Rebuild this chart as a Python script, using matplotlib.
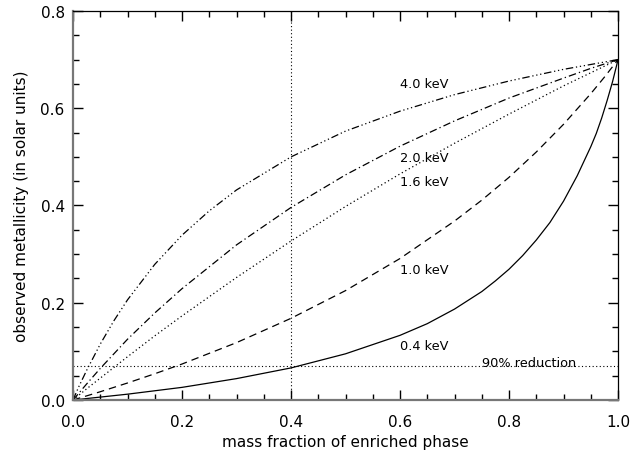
import matplotlib
matplotlib.use("Agg")
import matplotlib.pyplot as plt
from matplotlib.ticker import MultipleLocator

# mass fraction of enriched phase (x samples)
x_4 = [0.0, 0.01, 0.025, 0.05, 0.075, 0.1, 0.15, 0.2, 0.25, 0.3, 0.4, 0.5, 0.6, 0.7, 0.8, 0.9, 0.95, 1.0]
y_4 = [0.0, 0.026, 0.061, 0.115, 0.163, 0.206, 0.279, 0.339, 0.389, 0.432, 0.500, 0.553, 0.594, 0.628, 0.656, 0.680, 0.690, 0.700]

x_20 = [0.0, 0.025, 0.05, 0.1, 0.15, 0.2, 0.3, 0.4, 0.5, 0.6, 0.7, 0.8, 0.9, 0.95, 1.0]
y_20 = [0.0, 0.033, 0.065, 0.125, 0.179, 0.229, 0.319, 0.396, 0.463, 0.522, 0.574, 0.621, 0.662, 0.682, 0.700]

x_16 = [0.0, 0.025, 0.05, 0.1, 0.15, 0.2, 0.3, 0.4, 0.5, 0.6, 0.7, 0.8, 0.9, 0.95, 1.0]
y_16 = [0.0, 0.023, 0.045, 0.089, 0.132, 0.173, 0.252, 0.327, 0.398, 0.465, 0.528, 0.588, 0.646, 0.673, 0.700]

x_10 = [0.0, 0.05, 0.1, 0.15, 0.2, 0.3, 0.4, 0.5, 0.6, 0.7, 0.75, 0.8, 0.85, 0.9, 0.95, 0.975, 1.0]
y_10 = [0.0, 0.017, 0.035, 0.054, 0.074, 0.118, 0.168, 0.225, 0.291, 0.368, 0.411, 0.458, 0.510, 0.567, 0.630, 0.664, 0.700]

x_04 = [0.0, 0.05, 0.1, 0.15, 0.2, 0.3, 0.4, 0.5, 0.6, 0.65, 0.7, 0.75, 0.775, 0.8, 0.825, 0.85, 0.875,
        0.9, 0.925, 0.94, 0.95, 0.96, 0.97, 0.98, 0.99, 1.0]
y_04 = [0.0, 0.006, 0.012, 0.019, 0.026, 0.044, 0.066, 0.095, 0.133, 0.157, 0.187, 0.223, 0.245, 0.269, 0.297,
        0.329, 0.365, 0.409, 0.461, 0.497, 0.521, 0.548, 0.580, 0.616, 0.655, 0.700]

labels = ["4.0 keV", "2.0 keV", "1.6 keV", "1.0 keV", "0.4 keV"]
label_y = [0.651, 0.499, 0.449, 0.269, 0.113]
label_x = 0.6

reduction_level = 0.07
reduction_text = "90% reduction"
vline_x = 0.4

fig = plt.figure(figsize=(6.4, 4.56), dpi=100)
ax = fig.add_axes([0.1141, 0.1206, 0.8516, 0.8531])

lw = 0.9
ax.plot(x_4, y_4, color="black", lw=lw, linestyle=(0, (6, 2.2, 1, 2.2, 1, 2.2, 1, 2.2)))
ax.plot(x_20, y_20, color="black", lw=lw, linestyle=(0, (6, 2.5, 1, 2.5)))
ax.plot(x_16, y_16, color="black", lw=lw, linestyle=(0, (1, 2.2)))
ax.plot(x_10, y_10, color="black", lw=lw, linestyle=(0, (6, 4)))
ax.plot(x_04, y_04, color="black", lw=lw, linestyle="-")

ax.axhline(reduction_level, color="black", lw=0.8, linestyle=(0, (1, 2.2)))
ax.axvline(vline_x, color="black", lw=0.8, linestyle=(0, (1, 2.2)))

for t, yy in zip(labels, label_y):
    ax.text(label_x, yy, t, fontsize=9.3, va="center", ha="left")
ax.text(0.75, 0.0775, reduction_text, fontsize=9.3, va="center", ha="left")

ax.set_xlim(0, 1.0)
ax.set_ylim(0, 0.8)
ax.xaxis.set_major_locator(MultipleLocator(0.2))
ax.xaxis.set_minor_locator(MultipleLocator(0.05))
ax.yaxis.set_major_locator(MultipleLocator(0.2))
ax.yaxis.set_minor_locator(MultipleLocator(0.05))
ax.xaxis.set_major_formatter(plt.FormatStrFormatter("%.1f"))
ax.yaxis.set_major_formatter(plt.FormatStrFormatter("%.1f"))
ax.tick_params(which="both", direction="in", top=True, right=True, labelsize=11, color="black")
ax.tick_params(which="major", length=7, width=1)
ax.tick_params(which="minor", length=4, width=1)
ax.tick_params(axis="x", pad=10)
ax.tick_params(axis="y", pad=6)

for s in ["left", "bottom"]:
    ax.spines[s].set_color("#777777")
    ax.spines[s].set_linewidth(1.6)
for s in ["top", "right"]:
    ax.spines[s].set_color("black")
    ax.spines[s].set_linewidth(0.9)

ax.set_xlabel("mass fraction of enriched phase", fontsize=11, labelpad=4)
ax.set_ylabel("observed metallicity (in solar units)", fontsize=11, labelpad=8)

fig.savefig("out.png", dpi=100)
